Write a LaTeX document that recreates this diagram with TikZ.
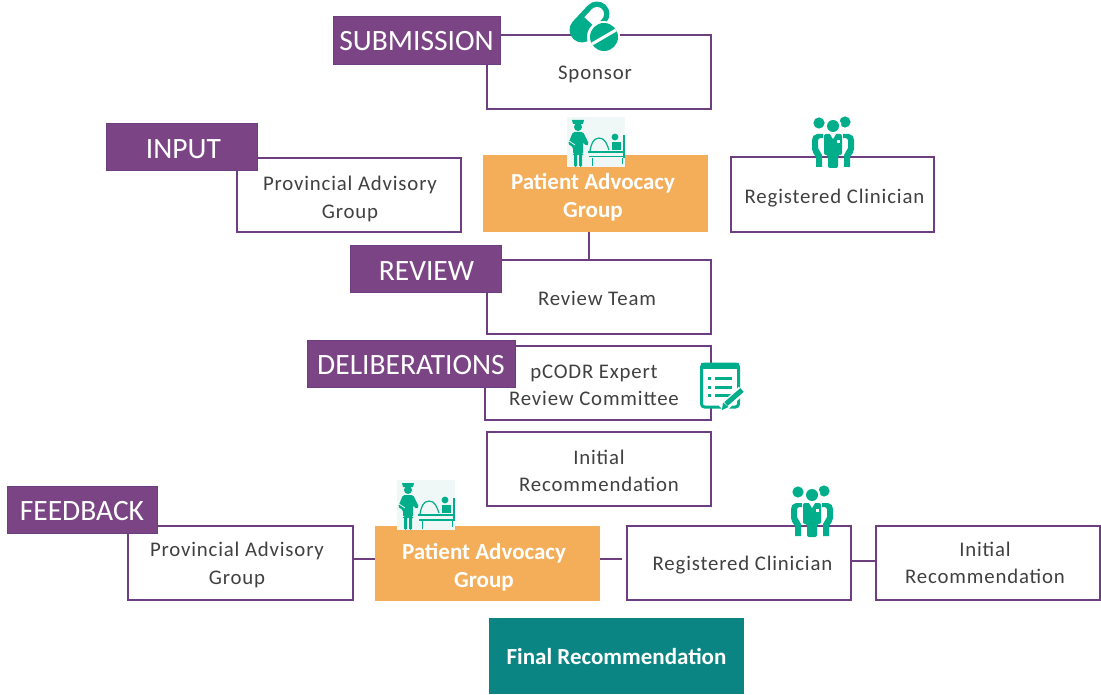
\documentclass[tikz,border=0pt]{standalone}
\usepackage{fontspec}
\setmainfont{Carlito}
\newfontfamily\bodyfont[LetterSpace=4]{Carlito}
\definecolor{plum}{HTML}{7B4585}
\definecolor{plumline}{HTML}{6E3F80}
\definecolor{amber}{HTML}{F4AE5A}
\definecolor{iconteal}{HTML}{00AE8B}
\definecolor{deepteal}{HTML}{0A8583}
\definecolor{bodygrey}{HTML}{404040}
\definecolor{palebg}{HTML}{EFF8F6}
\newcommand{\sd}{\rule{0pt}{18pt}}
\newcommand{\sa}{\rule{0pt}{23.5pt}}
\newcommand{\doctors}[1]{%
\begin{scope}[shift={(#1)}]
  \fill[iconteal] (-14,-20) circle (5.6);
  \fill[iconteal] (12,-21) circle (5.6);
  \fill[white] (0,-17) circle (8.5);
  \fill[iconteal] (0,-17) circle (6);
  \fill[iconteal] (-10,-9) -- (-16,-9) to[out=180,in=90] (-21,-3) -- (-21,6) to[out=-90,in=120] (-17,14) -- (-17,24) -- (-11,24) -- (-11,12) -- (-15,5) -- (-15,-3) to[out=90,in=180] (-10,-5) -- cycle;
  \fill[iconteal] (10,-9) -- (16,-9) to[out=0,in=90] (21,-3) -- (21,6) to[out=-90,in=60] (17,14) -- (17,24) -- (11,24) -- (11,12) -- (15,5) -- (15,-3) to[out=90,in=0] (10,-5) -- cycle;
  \fill[iconteal,rounded corners=2pt] (-9,-9) -- (9,-9) -- (9,12) -- (5,12) -- (5,25) -- (-5,25) -- (-5,12) -- (-9,12) -- cycle;
  \fill[white] (-3,-9) -- (3,-9) -- (0,-4) -- cycle;
  \fill[white] (4,-3) rectangle (7,0);
\end{scope}}
\newcommand{\nursebed}[1]{%
\begin{scope}[shift={(#1)}]
  \fill[palebg] (0,0) rectangle (58,50);
  % nurse
  \fill[iconteal] (5,3) -- (17,3) -- (16,7) -- (6,7) -- cycle;
  \fill[iconteal] (11,10) circle (4);
  \fill[iconteal,rounded corners=1.5pt] (6,15) -- (16,15) -- (22,27) -- (19,29) -- (16,25) -- (16,37) -- (15,37) -- (15,50) -- (12,50) -- (12,37) -- (10,37) -- (10,50) -- (7,50) -- (7,37) -- (6,37) -- (6,30) -- (1,27) -- cycle;
  \draw[palebg,line width=.8pt] (2,24) -- (8,28);
  % bed
  \fill[iconteal] (21,34) rectangle (57,36);
  \fill[iconteal] (22,39) rectangle (56,40.5);
  \draw[iconteal,line width=1.2pt] (23,34) to[out=80,in=180] (32,21) to[out=0,in=110] (42,33);
  \fill[iconteal] (48,20) circle (3.4);
  \fill[iconteal] (45,25) rectangle (54,33);
  \fill[iconteal] (55.5,18) rectangle (57.5,41);
  \draw[iconteal,line width=1pt] (55,41) -- (55,47);
  \draw[iconteal,line width=1pt] (25,41) -- (25,49);
\end{scope}}
\tikzset{
  x=1pt,y=-1pt,
  whitebox/.style={draw=plumline,line width=2.3pt,fill=white,text=bodygrey,font=\bodyfont\fontsize{20.8}{27.5}\selectfont,align=center,inner sep=0pt},
  amberbox/.style={fill=amber,text=white,font=\fontsize{23}{27.8}\selectfont\bfseries,align=center,inner sep=0pt},
  tealbox/.style={fill=deepteal,text=white,font=\fontsize{23}{24}\selectfont\bfseries,align=center,inner sep=0pt},
  stagetag/.style={fill=plum,draw=plumline,line width=.8pt,text=white,font=\fontsize{29.5}{30}\selectfont,inner sep=0pt},
  linkline/.style={draw=plumline,line width=2.6pt},
}
\newcommand{\rectnode}[7]{% style,name,x0,y0,x1,y1,text
  \pgfmathsetlengthmacro{\rw}{(#5)-(#3)}%
  \pgfmathsetlengthmacro{\rh}{(#6)-(#4)}%
  \node[#1,minimum width=\rw,minimum height=\rh,anchor=center] (#2) at ({((#3)+(#5))/2},{((#4)+(#6))/2}) {#7};}
\begin{document}
\begin{tikzpicture}
\useasboundingbox (0,0) rectangle (1101,695);
\fill[white] (0,0) rectangle (1101,695);
% boxes
\rectnode{whitebox}{sponsor}{487}{35}{711}{109}{\sd\kern-8pt Sponsor}
\rectnode{whitebox}{prov}{237}{158}{461}{232}{\rule{0pt}{22pt}\kern2pt Provincial Advisory\\\kern2pt Group}
\rectnode{amberbox}{pag}{483}{155}{708}{232}{\sa\kern-5pt Patient Advocacy\\\kern-5pt Group}
\rectnode{whitebox}{clin}{731}{157}{934}{232}{\rule{0pt}{22pt}\kern4pt Registered Clinician}
\rectnode{whitebox}{team}{487}{260}{711}{334}{\sd\kern-4pt Review Team}
\rectnode{whitebox}{pcodr}{485}{346}{711}{420}{\sd\kern-8pt pCODR Expert\\\kern-8pt Review Committee}
\rectnode{whitebox}{initial}{487}{432}{711}{506}{\sd Initial\\Recommendation}
\rectnode{whitebox}{provb}{128}{526}{353}{600}{\sd\kern-7pt Provincial Advisory\\\kern-7pt Group}
\rectnode{amberbox}{pagb}{375}{526}{600}{601}{\sa\kern-7pt Patient Advocacy\\\kern-7pt Group}
\rectnode{whitebox}{clinb}{627}{526}{851}{600}{\sd\kern7pt Registered Clinician}
\rectnode{whitebox}{initialb}{876}{526}{1100}{600}{\kern-6pt Initial\\\kern-6pt Recommendation}
\rectnode{tealbox}{final}{489}{618}{744}{694}{Final Recommendation}
% connectors
\draw[linkline] (pag.south -| team.north) ++(-10,0) coordinate (pagfoot) -- (pagfoot |- team.north);
\draw[linkline] ([yshift=4pt]provb.east) -- ([yshift=4.5pt]pagb.west);
\draw[linkline,shorten >=3.5pt] ([yshift=4.5pt]pagb.east) -- ([yshift=4pt]clinb.west);
\draw[linkline] ([yshift=2pt]clinb.east) -- ([yshift=2pt]initialb.west);
% stage tags
\rectnode{stagetag}{tagsub}{333}{16}{500}{64}{\rule{0pt}{21pt}SUBMISSION}
\rectnode{stagetag}{taginput}{106}{123}{257}{170}{\rule{0pt}{25pt}\kern4pt INPUT}
\rectnode{stagetag}{tagreview}{350}{245}{501}{292}{\rule{0pt}{25pt}\kern2pt REVIEW}
\rectnode{stagetag}{tagdelib}{307}{340}{515}{387}{\rule{0pt}{23pt}DELIBERATIONS}
\rectnode{stagetag}{tagfeed}{7}{486}{157}{533}{\rule{0pt}{23pt}FEEDBACK}
% pill icon
\fill[white] (603,37) circle (17);
\draw[iconteal,line width=25pt,line cap=round] (582,30) -- (597,14);
\draw[white,line width=14pt] (589.5,22) -- (597,14);
\fill[white] (597,14) circle (7);
\fill[white] (603,37) circle (16);
\fill[iconteal] (604,37) circle (14);
\draw[white,line width=3pt] (592,44) -- (616,30);
% other icons
\nursebed{567,117}
\nursebed{397,480}
\doctors{833,143}
\doctors{812,512}
% checklist icon
\draw[iconteal,line width=3pt,rounded corners=3pt,fill=white] (701.5,364) rectangle (738.5,407);
\fill[iconteal] (701,362.5) rectangle (739,369);
\foreach \yy in {378,387,395}{
  \fill[iconteal] (708,\yy-1.5) rectangle (711,\yy+1.5);
  \fill[iconteal] (715,\yy-1.5) rectangle (732,\yy+1.5);
}
\draw[white,line width=9pt] (722,409) -- (742,390);
\draw[iconteal,line width=5pt] (726,404) -- (742,390);
\fill[iconteal] (722,410) -- (723,402.5) -- (728.5,407) -- cycle;
\end{tikzpicture}
\end{document}
